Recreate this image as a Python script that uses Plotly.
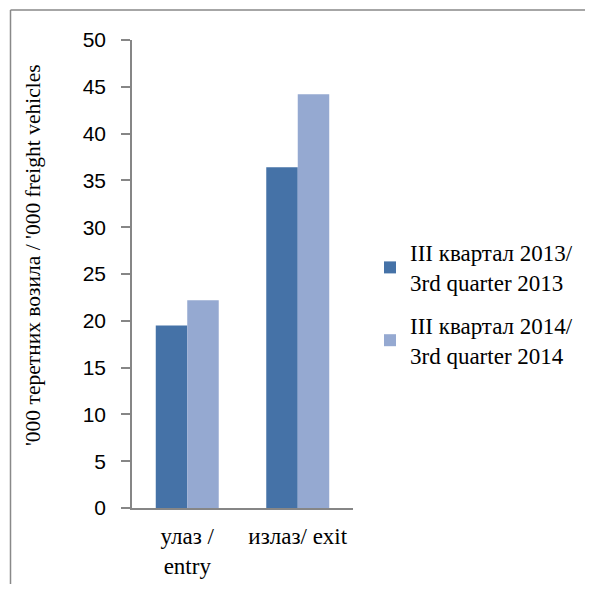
import plotly.graph_objects as go

categories = ["улаз /<br>entry", "излаз/ exit"]
series_names = ["III квартал 2013/<br>3rd quarter 2013", "III квартал 2014/<br>3rd quarter 2014"]
values_2013 = [19.5, 36.4]
values_2014 = [22.2, 44.2]
y_ticks = [0, 5, 10, 15, 20, 25, 30, 35, 40, 45, 50]
y_title = "'000 теретних возила / '000 freight vehicles"

colors = ["#4572A7", "#95A9D1"]
serif = "Liberation Serif"
sans = "Liberation Sans"

fig = go.Figure()
for name, vals, col, grp in zip(series_names, [values_2013, values_2014], colors, ["a", "b"]):
    fig.add_trace(go.Bar(x=categories, y=vals, name=name, marker_color=col,
                         marker_line_width=0, legendgroup=grp))

OFF = 8  # page offset of the figure on screen
W, H = 585, 576
L, T = 132 - OFF, 40 - OFF
pw, ph = 221, 468
R, B = W - L - pw, H - T - ph

def px(xs):
    return (xs - OFF - L) / pw

def py(ys):
    return (T + ph - (ys - OFF)) / ph

line_style = dict(color="#898989", width=1.5)

fig.update_layout(
    width=W, height=H,
    margin=dict(l=L, r=R, t=T, b=B, autoexpand=False),
    paper_bgcolor="white", plot_bgcolor="white",
    barmode="group", bargap=0.43, bargroupgap=0,
    showlegend=True,
    legend=dict(x=px(370), y=py(304), xanchor="left", yanchor="middle",
                font=dict(family=serif, size=23, color="black"),
                tracegroupgap=10, traceorder="grouped",
                bgcolor="rgba(0,0,0,0)"),
    xaxis=dict(range=[-0.5, 1.5], showline=True, linecolor="#868686", linewidth=1.5,
               ticks="", showgrid=False, zeroline=False, ticklabelstandoff=7,
               tickfont=dict(family=serif, size=23, color="black"), automargin=False),
    yaxis=dict(range=[0, 50], tickvals=y_ticks, showline=True, linecolor="#868686",
               linewidth=1.5, ticks="outside", ticklen=9, tickcolor="#868686", tickwidth=1.5,
               showgrid=False, zeroline=False, ticklabelstandoff=11,
               tickfont=dict(family=sans, size=21, color="black"), automargin=False),
    annotations=[dict(text=y_title, xref="paper", yref="paper", x=px(33), y=py(255),
                      textangle=-90, showarrow=False, xanchor="center", yanchor="middle",
                      font=dict(family=serif, size=21.5, color="black"))],
    shapes=[
        dict(type="line", xref="paper", yref="paper",
             x0=px(10.5), x1=px(OFF + W), y0=py(10), y1=py(10), line=line_style, layer="below"),
        dict(type="line", xref="paper", yref="paper",
             x0=px(10.5), x1=px(10.5), y0=py(10), y1=py(OFF + H), line=line_style, layer="below"),
    ],
)

fig.write_html("out.html")
